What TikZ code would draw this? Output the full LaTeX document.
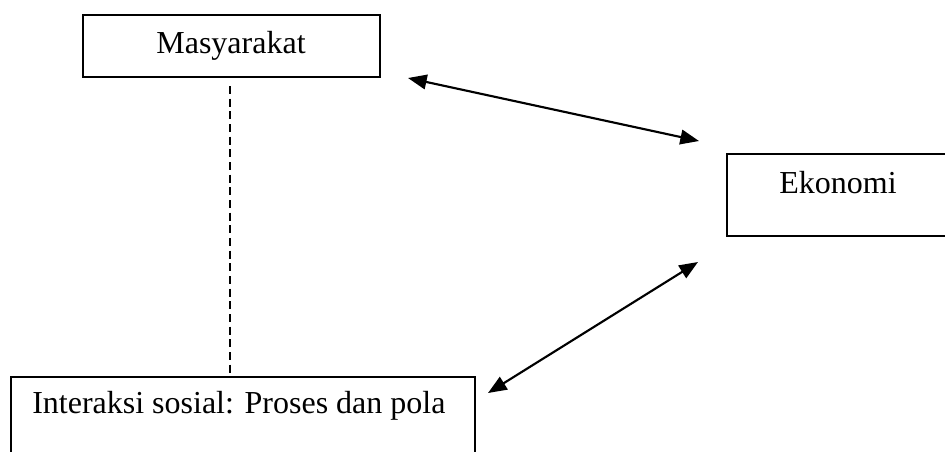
\documentclass[tikz,border=0pt]{standalone}
\usepackage{fontspec}
\setmainfont{Liberation Serif}
\usetikzlibrary{arrows.meta}
\begin{document}
\begin{tikzpicture}[x=0.75pt,y=-0.75pt,
  box/.style={draw, line width=1.1pt, rectangle, inner sep=0pt},
  txt/.style={inner sep=0pt, font=\fontsize{24pt}{28pt}\selectfont},
  dbl/.style={line width=1.6pt, {Triangle[length=14pt,width=11pt]}-{Triangle[length=14pt,width=11pt]}},
  dsh/.style={line width=1.1pt, dash pattern=on 6pt off 3.5pt}]
\useasboundingbox (0,0) rectangle (945,451);
\fill[white] (0,0) rectangle (945,451);
% boxes
\node[box, minimum width=222.75pt, minimum height=46.5pt] (mas) at (231.5,46) {};
\node[txt] (mast) at (231,46) {Masyarakat};
\node[box, minimum width=166.5pt, minimum height=61.5pt] (eko) at (838,195) {};
\node[txt] (ekot) at (838,183) {Ekonomi};
\node[box, minimum width=348pt, minimum height=61.5pt] (int) at (243,418) {};
\node[txt, anchor=west] (intt) at (32,406) {Interaksi sosial: Proses dan pola};
% connector ends
\coordinate (a1) at (408,78);
\coordinate (a2) at (699,141);
\coordinate (b1) at (698,262);
\coordinate (b2) at (488,393);
\coordinate (d1) at (230,86);
\draw[dbl] (a1) -- (a2);
\draw[dbl] (b1) -- (b2);
\draw[dsh] (d1) -- (d1 |- int.north);
\end{tikzpicture}
\end{document}
